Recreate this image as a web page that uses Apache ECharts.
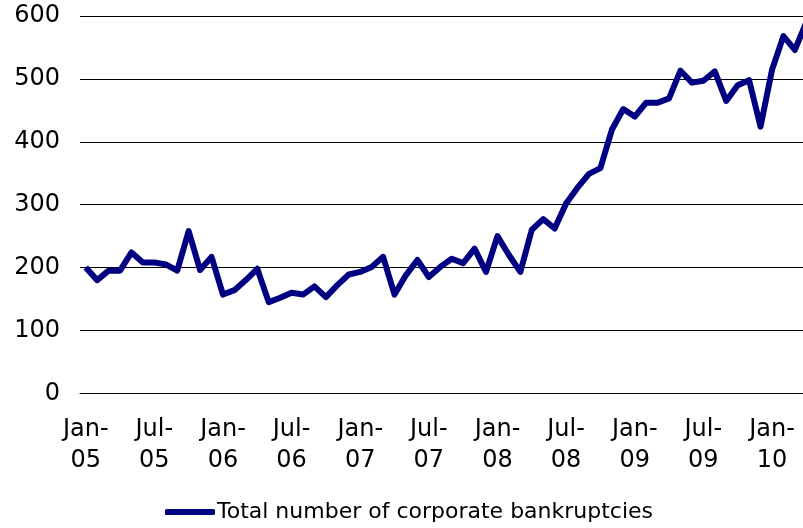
<!DOCTYPE html>
<html>
<head>
<meta charset="utf-8">
<script src="https://cdn.jsdelivr.net/npm/echarts@6/dist/echarts.min.js"></script>
<style>
  html, body { margin: 0; padding: 0; background: #fff; overflow: hidden; }
  /* plot runs a few px past the right edge, like the cropped original */
  #main { width: 812px; height: 528px; }
</style>
</head>
<body>
<div id="main"></div>
<script>
// monthly counts, Jan-05 .. Apr-10
const y2005 = [200, 180, 195, 195, 224, 208, 208, 205, 195, 258, 196, 217];
const y2006 = [157, 164, 180, 198, 145, 152, 160, 157, 170, 153, 172, 189];
const y2007 = [193, 201, 217, 157, 188, 212, 185, 201, 214, 207, 230, 193];
const y2008 = [250, 220, 193, 260, 277, 262, 302, 327, 349, 358, 419, 452];
const y2009 = [440, 462, 462, 469, 513, 494, 497, 512, 465, 490, 498, 424];
const y2010 = [514, 568, 546, 590];

const monthNames = ['Jan', 'Feb', 'Mar', 'Apr', 'May', 'Jun', 'Jul', 'Aug', 'Sep', 'Oct', 'Nov', 'Dec'];
const years = ['05', '06', '07', '08', '09', '10'];
const seriesName = 'Total number of corporate bankruptcies';

const values = [].concat(y2005, y2006, y2007, y2008, y2009, y2010);
const categories = values.map((v, i) => monthNames[i % 12] + '-\n' + years[Math.floor(i / 12)]);

const font = 'DejaVu Sans, Verdana, sans-serif';

const chart = echarts.init(document.getElementById('main'), null, { renderer: 'canvas' });
chart.setOption({
    animation: false,
    grid: { left: 80, right: 0, top: 16, bottom: 134.7 },
    legend: {
        bottom: 0,
        left: 160,
        itemWidth: 50,
        itemHeight: 6,
        itemGap: 10,
        icon: 'roundRect',
        textStyle: { fontFamily: font, fontSize: 22, color: '#000', padding: [0, 0, 0, -3] },
        data: [seriesName]
    },
    xAxis: {
        type: 'category',
        data: categories,
        boundaryGap: true,
        axisLine: { lineStyle: { color: '#000', width: 1 } },
        axisTick: { interval: 5, length: 7, lineStyle: { color: '#000' } },
        axisLabel: {
            interval: 5,
            fontFamily: font,
            fontSize: 24,
            color: '#000',
            lineHeight: 31,
            margin: 21
        }
    },
    yAxis: {
        type: 'value',
        min: 0,
        max: 600,
        interval: 100,
        axisLine: { show: false },
        axisTick: { show: false },
        axisLabel: { fontFamily: font, fontSize: 24, color: '#000', margin: 20 },
        splitLine: { lineStyle: { color: '#000', width: 1 } }
    },
    series: [{
        name: seriesName,
        type: 'line',
        data: values,
        symbol: 'none',
        lineStyle: { color: '#000080', width: 6, join: 'round' },
        itemStyle: { color: '#000080' }
    }]
});
</script>
</body>
</html>
